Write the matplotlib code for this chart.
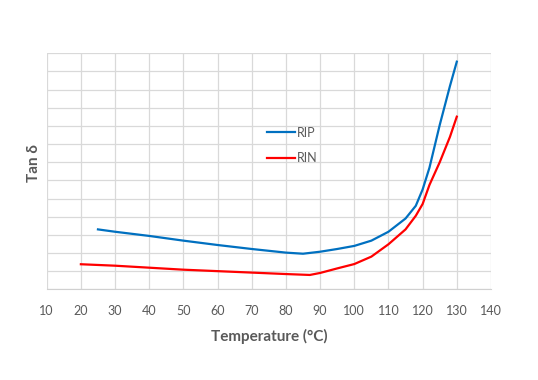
import matplotlib
matplotlib.use("Agg")
import matplotlib.pyplot as plt

# values (arbitrary tan delta units, y axis is unlabelled)
rip_temp = [25, 30, 40, 50, 60, 70, 80, 85, 90, 95, 100, 105, 110, 115, 118, 120, 122, 125, 128, 130]
rip_tan = [0.33, 0.317, 0.294, 0.268, 0.244, 0.222, 0.202, 0.196, 0.207, 0.222, 0.239, 0.268,
           0.317, 0.39, 0.46, 0.55, 0.67, 0.905, 1.12, 1.254]
rin_temp = [20, 30, 40, 50, 60, 70, 80, 87, 90, 95, 100, 105, 110, 115, 118, 120, 122, 125, 128, 130]
rin_tan = [0.138, 0.13, 0.119, 0.108, 0.10, 0.092, 0.084, 0.079, 0.09, 0.115, 0.139, 0.18,
           0.248, 0.33, 0.405, 0.47, 0.575, 0.70, 0.84, 0.951]
x_ticks = list(range(10, 141, 10))
y_grid = [i / 10 for i in range(0, 14)]

txt = "#595959"
plt.rcParams["font.family"] = ["Lato", "DejaVu Sans"]

fig = plt.figure(figsize=(5.38, 3.8), dpi=100)
ax = fig.add_axes([0.0868, 0.2387, 0.8258, 0.621])

ax.plot(rip_temp, rip_tan, color="#0070C0", lw=1.6, label="RIP", solid_joinstyle="round")
ax.plot(rin_temp, rin_tan, color="#FF0000", lw=1.6, label="RIN", solid_joinstyle="round")

ax.set_xlim(10, 140)
ax.set_ylim(0, 1.3)
ax.set_xticks(x_ticks)
ax.set_yticks(y_grid)
ax.set_yticklabels([])
ax.grid(True, color="#d9d9d9", lw=0.9)
ax.set_axisbelow(True)
ax.tick_params(length=0, labelsize=9, labelcolor=txt, pad=11)
for s in ["top", "right", "left"]:
    ax.spines[s].set_visible(False)
ax.spines["bottom"].set_color("#d0d0d0")

ax.set_xlabel("Temperature (°C)", fontsize=11, fontweight="bold", color=txt, labelpad=9)
ax.set_ylabel("Tan δ", fontsize=11, fontweight="bold", color=txt)
ax.yaxis.set_label_coords(-0.013, 0.535)

leg = ax.legend(loc="upper left", bbox_to_anchor=(0.496, 0.689), frameon=False,
                fontsize=9, handlelength=2.2, handletextpad=0.15, labelspacing=1.1,
                borderpad=0, borderaxespad=0)
for t in leg.get_texts():
    t.set_color(txt)

fig.savefig("out.png", dpi=100)
